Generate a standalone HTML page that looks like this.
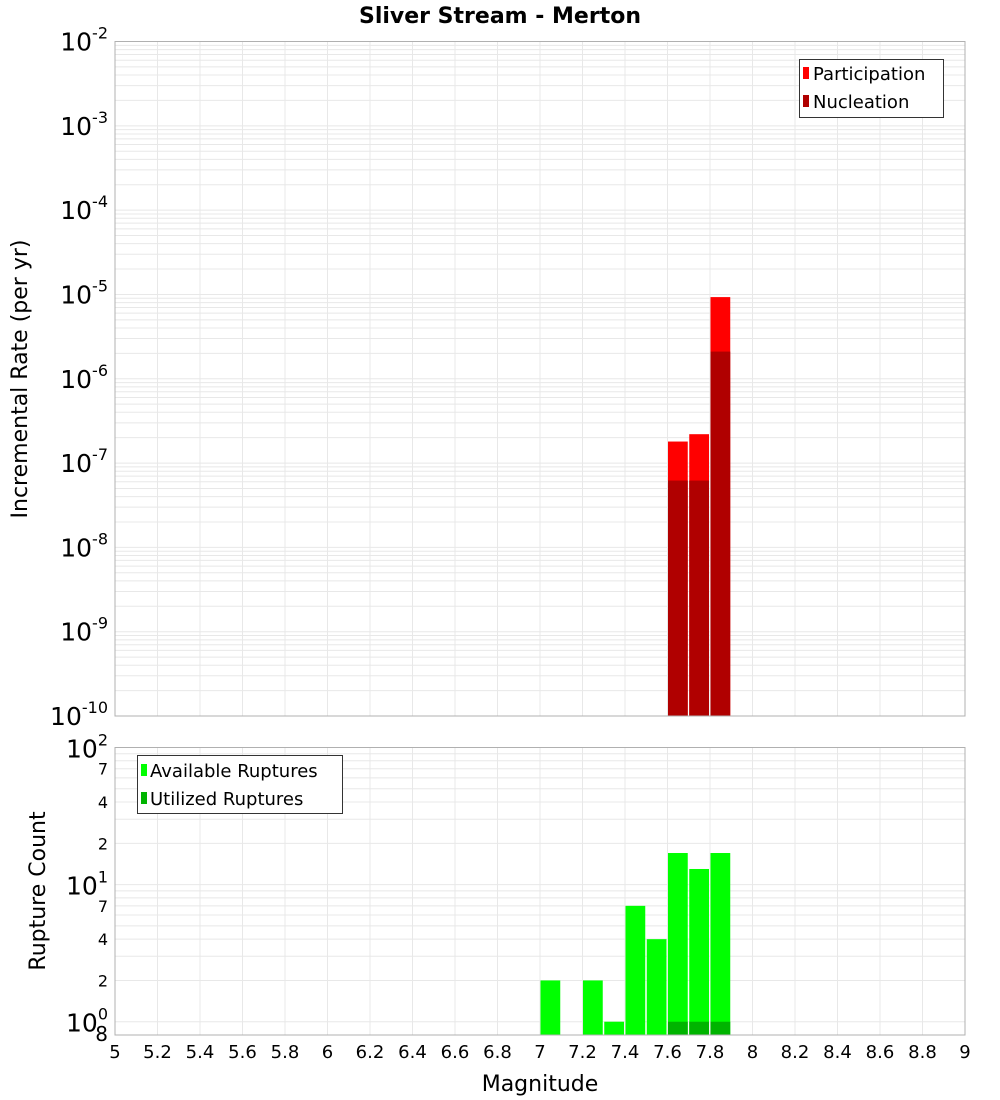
<!DOCTYPE html>
<html><head><meta charset="utf-8"><style>
body{margin:0;background:#fff;}
svg{display:block;font-family:"DejaVu Sans","Liberation Sans",sans-serif;}
</style></head><body>
<svg id="chart" width="1000" height="1100" xmlns="http://www.w3.org/2000/svg">
<text x="500" y="23" text-anchor="middle" font-size="22" font-weight="bold">Sliver Stream - Merton</text>
<g id="topg"></g><g id="botg"></g>
</svg>
<script>
const binCenters=[7.65,7.75,7.85];
const participation=[1.8e-7,2.2e-7,9.3e-6];
const nucleation=[6.2e-8,6.2e-8,2.1e-6];
const countBins=[7.05,7.25,7.35,7.45,7.55,7.65,7.75,7.85];
const available=[2,2,1,7,4,17,13,17];
const utilized=[0,0,0,0,0,1,1,1];
const xTicks=[5,5.2,5.4,5.6,5.8,6,6.2,6.4,6.6,6.8,7,7.2,7.4,7.6,7.8,8,8.2,8.4,8.6,8.8,9];
const topExps=[-10,-9,-8,-7,-6,-5,-4,-3,-2];
const botMinorLabels=[2,4,7];

const NS="http://www.w3.org/2000/svg";
const X0=115,X1=965;
const xs=m=>X0+(m-5)/4*(X1-X0);
const T0=41.5,T1=716;
const yTop=v=>T1-(Math.log10(v)+10)/8*(T1-T0);
const B0=747.5,B1=1035;
const bMin=Math.log10(0.8);
const yBot=v=>B1-(Math.log10(v)-bMin)/(2-bMin)*(B1-B0);
function el(p,t,a,txt){const e=document.createElementNS(NS,t);for(const k in a)e.setAttribute(k,a[k]);if(txt!==undefined)e.textContent=txt;p.appendChild(e);return e;}
const topG=document.getElementById('topg'),botG=document.getElementById('botg');

el(topG,'rect',{x:X0,y:T0,width:X1-X0,height:T1-T0,fill:'#fff'});
el(botG,'rect',{x:X0,y:B0,width:X1-X0,height:B1-B0,fill:'#fff'});
xTicks.forEach(t=>{
  let g=el(topG,'line',{x1:xs(t),x2:xs(t),y1:T0,y2:T1,stroke:'#e8e8e8'});
  
  
  let g2=el(botG,'line',{x1:xs(t),x2:xs(t),y1:B0,y2:B1,stroke:'#e8e8e8'});
  
  
  let l=el(botG,'text',{x:xs(t),y:1058,'text-anchor':'middle','font-size':18},String(t));
  
  
});
topExps.forEach(e=>{
  for(let k=1;k<=9;k++){const v=k*Math.pow(10,e);const y=yTop(v);if(y<T0-0.5||y>T1)continue;
    const g=el(topG,'line',{x1:X0,x2:X1,y1:y,y2:y,stroke:'#e8e8e8'});
    
    }
  const y=yTop(Math.pow(10,e));
  const t=el(topG,'text',{x:108,y:y+9,'text-anchor':'end','font-size':25});
  
  
  el(t,'tspan',{},'10');el(t,'tspan',{dy:-12,'font-size':16},String(e));
});
[0,1].forEach(e=>{for(let k=1;k<=9;k++){const v=k*Math.pow(10,e);const y=yBot(v);if(y>B1+0.5)continue;
  const g=el(botG,'line',{x1:X0,x2:X1,y1:y,y2:y,stroke:'#e8e8e8'});
  
  }});
[[1,0],[10,1],[100,2]].forEach(([v,e])=>{const y=yBot(v);
  const t=el(botG,'text',{x:108,y:y+10,'text-anchor':'end','font-size':25});
  
  
  el(t,'tspan',{},'10');el(t,'tspan',{dy:-12,'font-size':16},String(e));});
[1,10].forEach(d=>botMinorLabels.forEach(k=>{const y=yBot(k*d);
  const t=el(botG,'text',{x:108,y:y+6,'text-anchor':'end','font-size':16},String(k));
  
  }));
{const t=el(botG,'text',{x:108,y:1041,'text-anchor':'end','font-size':20},'8');
 
 }

binCenters.forEach((c,i)=>{
  const xl=xs(c-0.05)+0.5,w=xs(c+0.05)-xs(c-0.05)-1.5;
  const p=el(topG,'rect',{x:xl,y:yTop(participation[i]),width:w,height:T1-yTop(participation[i]),fill:'#ff0000'});
  
  
  const n=el(topG,'rect',{x:xl,y:yTop(nucleation[i]),width:w,height:T1-yTop(nucleation[i]),fill:'#b00000'});
  
  
});
countBins.forEach((c,i)=>{
  const xl=xs(c-0.05)+0.5,w=xs(c+0.05)-xs(c-0.05)-1.5;
  const a=el(botG,'rect',{x:xl,y:yBot(available[i]),width:w,height:B1-yBot(available[i]),fill:'#00ff00'});
  
  
  if(utilized[i]>0){const u=el(botG,'rect',{x:xl,y:yBot(utilized[i]),width:w,height:B1-yBot(utilized[i]),fill:'#00b400'});
  
  }
});
el(topG,'rect',{x:X0,y:T0,width:X1-X0,height:T1-T0,fill:'none',stroke:'#b0b0b0'});
el(botG,'rect',{x:X0,y:B0,width:X1-X0,height:B1-B0,fill:'none',stroke:'#b0b0b0'});
</script>
<svg style="position:absolute;left:0;top:0" width="1000" height="1100" xmlns="http://www.w3.org/2000/svg">
<g>
<rect x="799.5" y="59.5" width="144" height="58" fill="#fff" stroke="#333"/>
<rect x="803" y="67" width="6" height="12" fill="#ff0000"/><text x="813" y="80" font-size="18">Participation</text>
<rect x="803" y="95" width="6" height="12" fill="#b00000"/><text x="813" y="108" font-size="18">Nucleation</text>
</g>
<g>
<rect x="137.5" y="755.5" width="205" height="58" fill="#fff" stroke="#333"/>
<rect x="141" y="764" width="6" height="12" fill="#00ff00"/><text x="150" y="777" font-size="18">Available Ruptures</text>
<rect x="141" y="792" width="6" height="12" fill="#00b400"/><text x="150" y="805" font-size="18">Utilized Ruptures</text>
</g>
<text transform="translate(27,379) rotate(-90)" text-anchor="middle" font-size="22">Incremental Rate (per yr)</text>
<text transform="translate(45,891) rotate(-90)" text-anchor="middle" font-size="22">Rupture Count</text>
<text x="540" y="1091" text-anchor="middle" font-size="22">Magnitude</text>
</svg>
</body></html>
